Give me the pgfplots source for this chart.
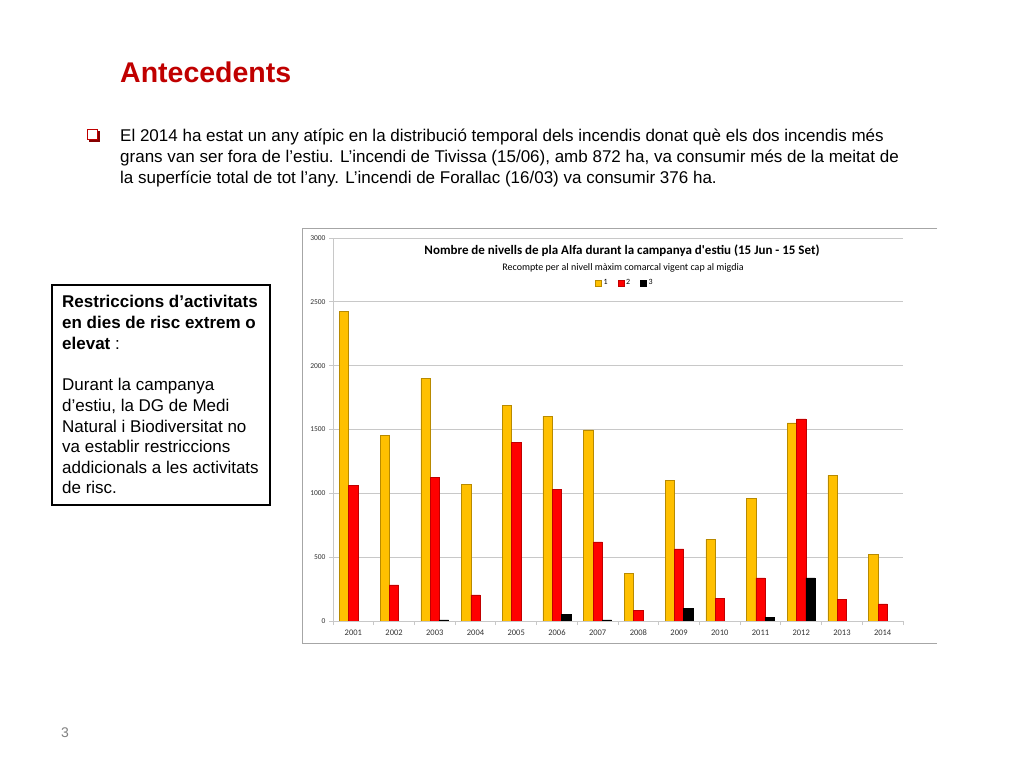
\documentclass[border=0pt]{standalone}
\usepackage{pgfplots}
\pgfplotsset{compat=1.18}
\usepackage{fontspec}
\setmainfont{Liberation Sans}
\newfontfamily\calibri{Carlito}
\definecolor{titlered}{HTML}{C00000}
\definecolor{barY}{HTML}{FFC000}
\definecolor{barYd}{HTML}{B88A00}
\definecolor{barR}{HTML}{FF0000}
\definecolor{barRd}{HTML}{C00000}
\definecolor{gridgray}{HTML}{C8C8C8}
\definecolor{framegray}{HTML}{A6A6A6}

\begin{document}
\begin{tikzpicture}[x=1pt,y=1pt]
% slide canvas, 1024 x 768 (y measured from the bottom)
\fill[white] (0,0) rectangle (1024,768);

% title
\node[anchor=base west, inner sep=0pt, text=titlered,
      font=\fontsize{28.5}{32}\selectfont\bfseries] at (120,685) {Antecedents};

% bullet (shadowed square)
\fill[titlered!70!black] (89,626) rectangle (100,637);
\filldraw[fill=white, draw=titlered, line width=1pt] (87,628) rectangle (97,638);

% bullet text, one node per line
\begin{scope}[every node/.style={anchor=base west, inner sep=0pt,
      font=\fontsize{17}{21}\selectfont}]
\node at (120,626) {El 2014 ha estat un any atípic en la distribució temporal dels incendis donat què els dos incendis més};
\node at (120,605) {grans van ser fora de l’estiu. L’incendi de Tivissa (15/06), amb 872 ha, va consumir més de la meitat de};
\node at (120,584) {la superfície total de tot l’any. L’incendi de Forallac (16/03) va consumir 376 ha.};
\end{scope}

% side box
\draw[black, line width=1.2pt] (52,263) rectangle (270,483);
\begin{scope}[every node/.style={anchor=base west, inner sep=0pt,
      font=\fontsize{17}{21}\selectfont}]
\node at (62,460) {\textbf{Restriccions d’activitats}};
\node at (62,439) {\textbf{en dies de risc extrem o}};
\node at (62,418) {\textbf{elevat} :};
\node at (62,377) {Durant la campanya};
\node at (62,356) {d’estiu, la DG de Medi};
\node at (62,335) {Natural i Biodiversitat no};
\node at (62,315) {va establir restriccions};
\node at (62,294) {addicionals a les activitats};
\node at (62,274) {de risc.};
\end{scope}

% page number
\node[text=gray, font=\fontsize{14}{16}\selectfont] at (65,35) {3};

% chart frame
\draw[framegray, line width=1pt] (937,539) -- (302,539) -- (302,125) -- (937,125);

% chart titles
\node[font=\calibri\fontsize{13}{15}\selectfont\bfseries] at (622,517)
  {Nombre de nivells de pla Alfa durant la campanya d'estiu (15 Jun - 15 Set)};
\node[font=\calibri\fontsize{10}{12}\selectfont] at (623,500)
  {Recompte per al nivell màxim comarcal vigent cap al migdia};

\begin{axis}[
  at={(333pt,147pt)}, anchor=south west,
  scale only axis, width=570pt, height=383pt,
  ybar=0pt, bar width=9.3pt,
  xmin=-0.5, xmax=13.5, ymin=0, ymax=3000,
  axis x line=bottom, axis y line=left,
  axis line style={-, draw=gridgray, line width=0.8pt},
  xtick={0,...,13},
  xticklabels={2001,2002,2003,2004,2005,2006,2007,2008,2009,2010,2011,2012,2013,2014},
  minor xtick={-0.5,0.5,...,13.5},
  major x tick style={draw=none},
  minor x tick style={draw=gridgray, line width=0.8pt},
  ytick={0,500,...,3000},
  y tick style={draw=gridgray, line width=0.8pt},
  tick align=outside, major tick length=4pt, minor tick length=4pt,
  ymajorgrids, grid style={draw=gridgray, line width=0.8pt},
  ticklabel style={text=black!80},
  x tick label style={yshift=-1pt, font=\calibri\fontsize{8.5}{10}\selectfont},
  yticklabel style={font=\calibri\fontsize{7.5}{9}\selectfont,
    /pgf/number format/1000 sep={}, /pgf/number format/assume math mode=true},
  legend columns=3,
  legend style={draw=none, fill=none, at={(0.512,0.8825)}, anchor=center,
    font=\calibri\fontsize{8}{9}\selectfont,
    /tikz/every even column/.append style={column sep=8pt}},
  legend cell align=left,
]
\addplot[fill=barY, draw=barYd, line width=0.5pt,
  legend image code/.code={\draw[fill=barY, draw=barYd] (0pt,-3pt) rectangle (6pt,3pt);}]
  coordinates {
  (0,2425) (1,1456) (2,1901) (3,1068) (4,1689) (5,1602) (6,1497)
  (7,374) (8,1102) (9,639) (10,958) (11,1552) (12,1141) (13,521)
};
\addplot[fill=barR, draw=barRd, line width=0.5pt,
  legend image code/.code={\draw[fill=barR, draw=barRd] (0pt,-3pt) rectangle (6pt,3pt);}]
  coordinates {
  (0,1060) (1,283) (2,1126) (3,204) (4,1401) (5,1029) (6,620)
  (7,81) (8,565) (9,175) (10,338) (11,1584) (12,170) (13,134)
};
\addplot[fill=black, draw=black, line width=0.5pt,
  legend image code/.code={\draw[fill=black, draw=black] (0pt,-3pt) rectangle (6pt,3pt);}]
  coordinates {
  (2,8) (5,52) (6,8) (8,97) (10,26) (11,338)
};
\legend{1,2,3}
\end{axis}
\end{tikzpicture}
\end{document}
